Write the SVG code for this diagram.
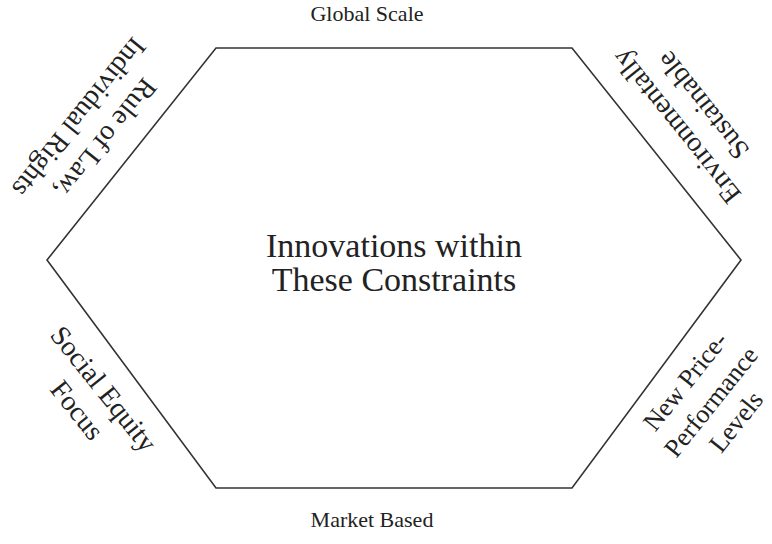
<svg xmlns="http://www.w3.org/2000/svg" width="772" height="544" viewBox="0 0 772 544">
<style>
text{font-family:"Liberation Serif","Times New Roman",serif;fill:#222;text-anchor:middle}
.h{font-size:22px}
.s{font-size:28px}
.b{font-size:26px}
.c{font-size:34px}
.edge{fill:none;stroke:#333;stroke-width:1.6;stroke-linejoin:miter}
</style>
<rect width="772" height="544" fill="#fff"/>
<g id="connectors">
<polygon class="edge" points="216,48 572,48 741,260 572,488 216,488 47,260"/>
</g>
<g id="center"><text class="c" x="394" y="257">Innovations within</text><text class="c" x="394" y="291">These Constraints</text></g>
<g id="top"><text class="h" x="367" y="21">Global Scale</text></g>
<g id="bottom"><text class="h" x="372" y="527">Market Based</text></g>
<g id="top-left" transform="translate(93,128.5) rotate(128.66)"><text class="s" x="0" y="-7">Rule of Law,</text><text class="s" x="0" y="27">Individual Rights</text></g>
<g id="top-right" transform="translate(689,116.5) rotate(-128.66)"><text class="s" x="0" y="-7">Environmentally</text><text class="s" x="0" y="27">Sustainable</text></g>
<g id="bottom-left" transform="translate(91,399) rotate(51.34)"><text class="s" x="0" y="-7">Social Equity</text><text class="s" x="0" y="27">Focus</text></g>
<g id="bottom-right" transform="translate(710,401) rotate(-51.34)"><text class="b" x="0" y="-23">New Price-</text><text class="b" x="0" y="10">Performance</text><text class="b" x="0" y="42">Levels</text></g>
</svg>
